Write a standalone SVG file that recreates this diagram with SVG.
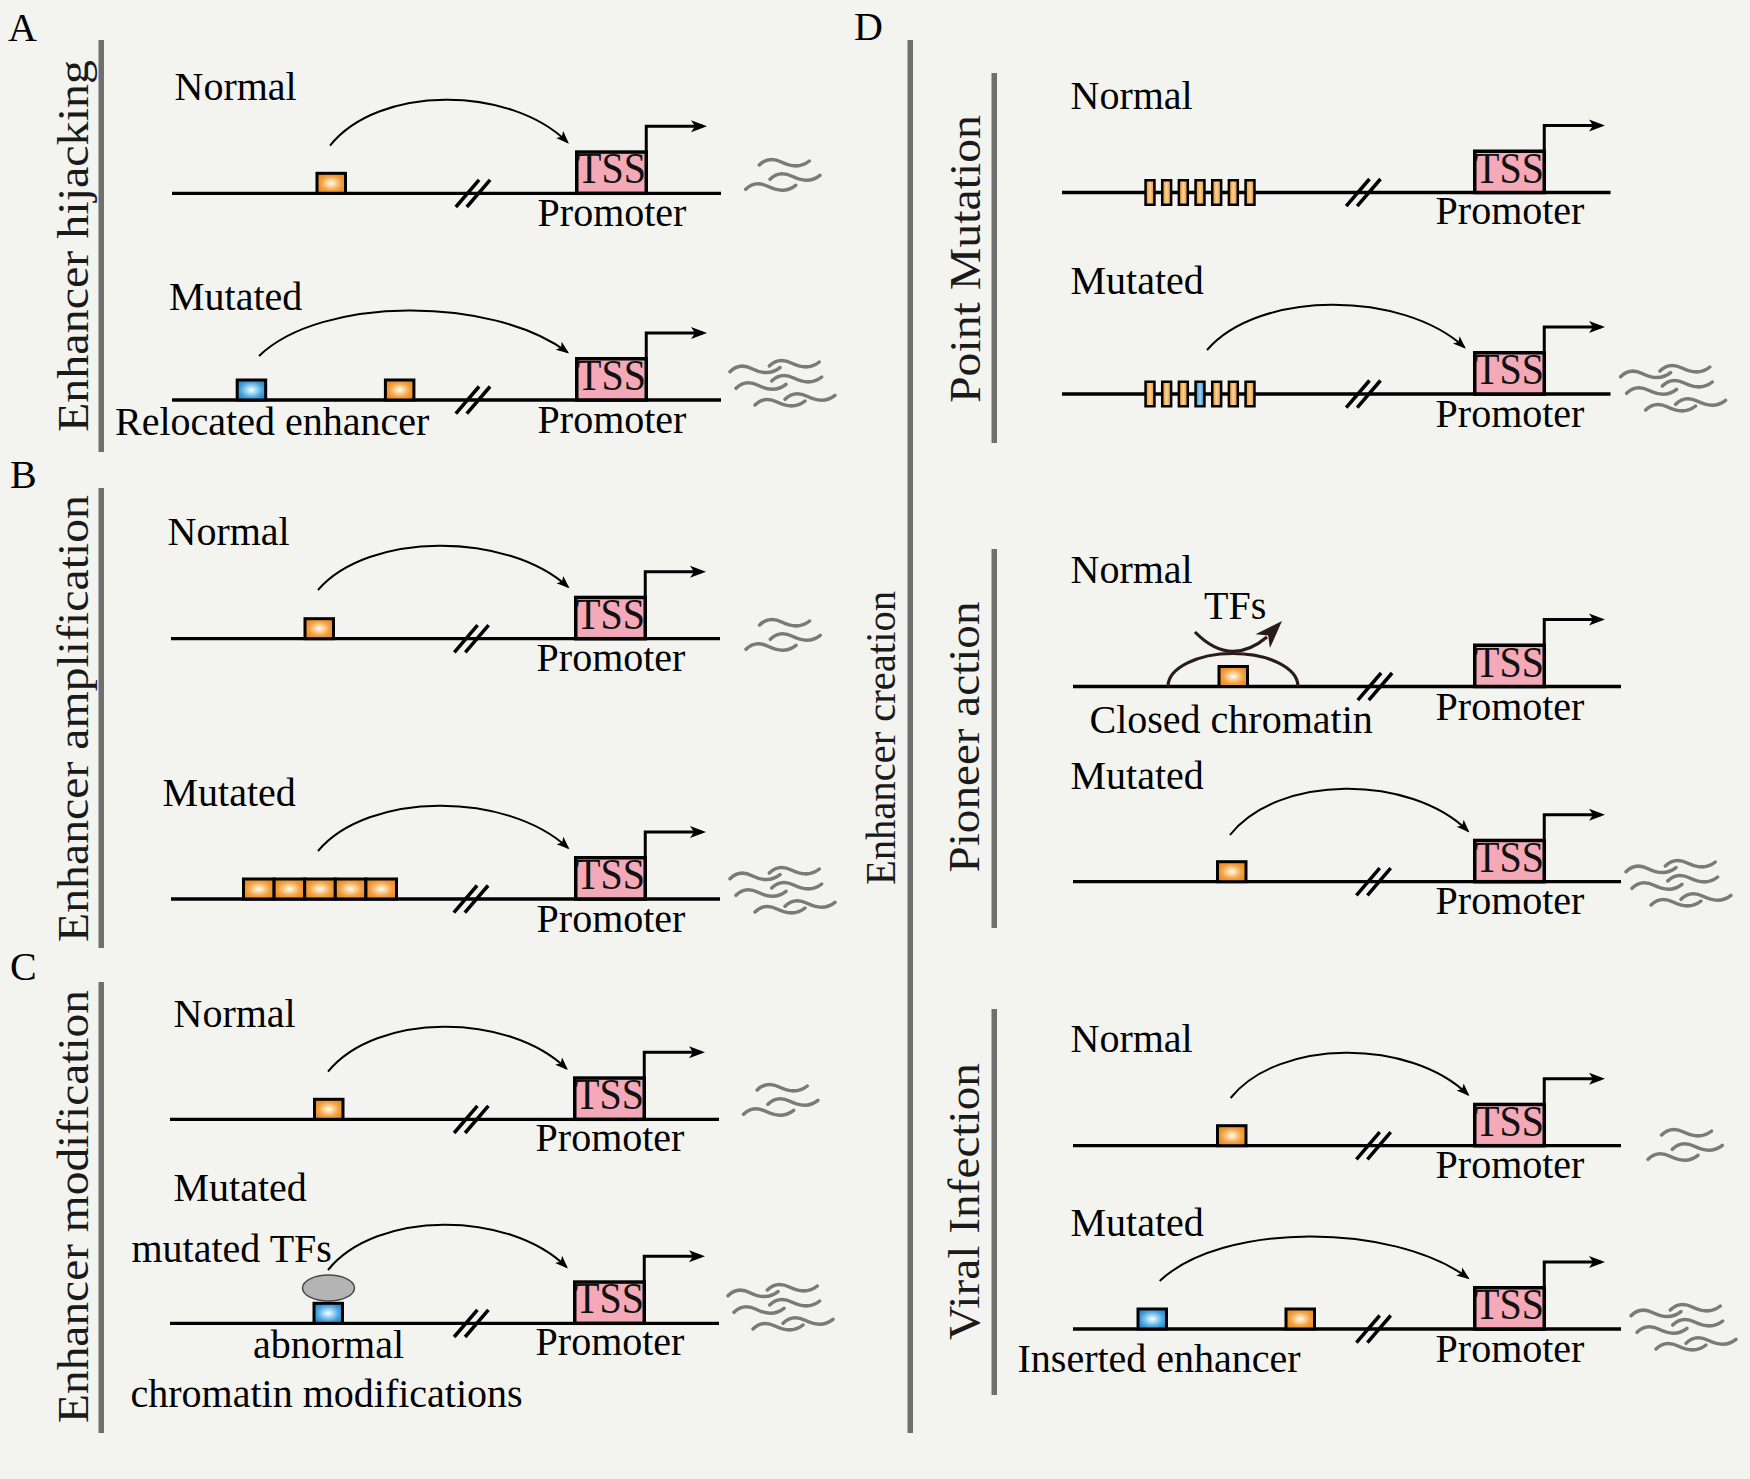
<svg xmlns="http://www.w3.org/2000/svg" xmlns:xlink="http://www.w3.org/1999/xlink" width="1750" height="1479" viewBox="0 0 1750 1479">
<style>
.t{font-family:"Liberation Serif","Times New Roman",serif;font-size:40px;fill:#000}
.side{font-family:"Liberation Serif","Times New Roman",serif;font-size:44px;fill:#1a1a1a;text-anchor:middle}
.mid{text-anchor:middle}
.tsst{font-family:"Liberation Serif","Times New Roman",serif;font-size:44px;fill:#111;text-anchor:middle}
.bar{fill:#6f6f6f}
.dna{stroke:#000;stroke-width:3.3;fill:none}
.brk line{stroke:#000;stroke-width:3.5}
.tss{fill:#f3a9b7;stroke:#000;stroke-width:3.5}
.tssarr{fill:none;stroke:#000;stroke-width:3;marker-end:url(#ahL)}
.cv{fill:none;stroke:#000;stroke-width:2;marker-end:url(#ahS)}
.wv{fill:none;stroke:#7a7a7a;stroke-width:3.5;stroke-linecap:round}
.eo{fill:url(#gO);stroke:#000;stroke-width:3}
.eb{fill:url(#gB);stroke:#000;stroke-width:3}
.po{fill:url(#lO);stroke:#000;stroke-width:2.5}
.pb{fill:url(#lB);stroke:#000;stroke-width:2.5}
.dk{fill:none;stroke:#2a1c1a;stroke-width:3.2}
</style>
<defs>
<radialGradient id="gO" cx="0.5" cy="0.5" r="0.6">
<stop offset="0" stop-color="#ffffff"/><stop offset="0.18" stop-color="#fde2b5"/><stop offset="0.6" stop-color="#f4a040"/><stop offset="1" stop-color="#e6861c"/>
</radialGradient>
<radialGradient id="gB" cx="0.5" cy="0.5" r="0.6">
<stop offset="0" stop-color="#ffffff"/><stop offset="0.2" stop-color="#bfe5f8"/><stop offset="0.65" stop-color="#48a4df"/><stop offset="1" stop-color="#2c7cc2"/>
</radialGradient>
<linearGradient id="lO" x1="0" y1="0" x2="1" y2="0">
<stop offset="0" stop-color="#e6861c"/><stop offset="0.5" stop-color="#fbd49a"/><stop offset="1" stop-color="#e6861c"/>
</linearGradient>
<linearGradient id="lB" x1="0" y1="0" x2="1" y2="0">
<stop offset="0" stop-color="#2c7cc2"/><stop offset="0.5" stop-color="#9ed6f5"/><stop offset="1" stop-color="#2c7cc2"/>
</linearGradient>
<marker id="ahL" viewBox="-20 -10 24 20" refX="-4" refY="0" markerWidth="24" markerHeight="20" markerUnits="userSpaceOnUse" orient="auto">
<path d="M0,0 L-16,-6 L-12,0 L-16,6 Z" fill="#000"/>
</marker>
<marker id="ahS" viewBox="-20 -10 24 20" refX="-2" refY="0" markerWidth="24" markerHeight="20" markerUnits="userSpaceOnUse" orient="auto">
<path d="M0,0 L-13,-5 L-10,0 L-13,5 Z" fill="#000"/>
</marker>
<path id="w" class="wv" d="M0,0 C6,-6 14,-7 22,-3 S40,4 50,-4"/>
<g id="ws1">
<use xlink:href="#w" x="13.6" y="5"/><use xlink:href="#w" x="24.3" y="19.3"/><use xlink:href="#w" x="0" y="29.3"/>
</g>
<g id="ws3">
<use xlink:href="#w" x="0" y="10.7"/><use xlink:href="#w" x="39.3" y="5"/><use xlink:href="#w" x="6" y="27.3"/><use xlink:href="#w" x="41.7" y="20"/><use xlink:href="#w" x="25" y="44"/><use xlink:href="#w" x="55" y="38.3"/>
</g>
<g id="brk" class="brk"><line x1="-17.2" y1="13.7" x2="6.1" y2="-13.5"/><line x1="-6.2" y1="13.7" x2="17.1" y2="-13.5"/></g>
</defs>
<rect width="1750" height="1479" fill="#f3f3ef"/>

<!-- panel letters and side bars -->
<g id="labels">
<text class="t" x="8" y="41">A</text>
<text class="t" x="10" y="488">B</text>
<text class="t" x="10" y="980">C</text>
<text class="t" x="854" y="40">D</text>
<rect class="bar" x="98.5" y="40" width="5.5" height="412"/>
<rect class="bar" x="98.5" y="488" width="5.5" height="460"/>
<rect class="bar" x="98.5" y="982" width="5.5" height="451"/>
<rect class="bar" x="907.5" y="40" width="5.5" height="1393"/>
<rect class="bar" x="991.5" y="73" width="5.5" height="370"/>
<rect class="bar" x="991.5" y="549" width="5.5" height="379"/>
<rect class="bar" x="991.5" y="1009" width="5.5" height="386"/>
<text class="side" transform="translate(87.5,246) rotate(-90)" textLength="372" lengthAdjust="spacingAndGlyphs">Enhancer hijacking</text>
<text class="side" transform="translate(87.5,718.5) rotate(-90)" textLength="447" lengthAdjust="spacingAndGlyphs">Enhancer amplification</text>
<text class="side" transform="translate(87.5,1206.5) rotate(-90)" textLength="433" lengthAdjust="spacingAndGlyphs">Enhancer modification</text>
<text class="side" style="font-size:42px" transform="translate(894.5,738) rotate(-90)" textLength="294" lengthAdjust="spacingAndGlyphs">Enhancer creation</text>
<text class="side" style="font-size:45px" transform="translate(980,259) rotate(-90)" textLength="288" lengthAdjust="spacingAndGlyphs">Point Mutation</text>
<text class="side" style="font-size:45px" transform="translate(979,737) rotate(-90)" textLength="271" lengthAdjust="spacingAndGlyphs">Pioneer action</text>
<text class="side" style="font-size:45px" transform="translate(979,1201.5) rotate(-90)" textLength="277" lengthAdjust="spacingAndGlyphs">Viral Infection</text>
</g>

<!-- A normal -->
<g id="A-normal">
<text class="t" x="174.5" y="100">Normal</text>
<path class="dna" d="M172,193.3 H721"/>
<rect class="eo" x="317" y="173.3" width="28.5" height="20"/>
<use xlink:href="#brk" x="473" y="193.3"/>
<rect class="tss" x="576.75" y="152.05" width="69.5" height="41.25"/>
<text class="tsst" x="611.5" y="183.3" textLength="69" lengthAdjust="spacingAndGlyphs">TSS</text>
<text class="t mid" x="612" y="225.8">Promoter</text>
<use xlink:href="#ws1" x="745.7" y="160"/>
</g>
<!-- A mutated -->
<g id="A-mutated">
<text class="t" x="169" y="310">Mutated</text>
<path class="dna" d="M172,400 H721"/>
<rect class="eb" x="237.2" y="380" width="28.5" height="20"/>
<rect class="eo" x="385.4" y="380" width="28.5" height="20"/>
<use xlink:href="#brk" x="473" y="400"/>
<rect class="tss" x="576.75" y="358.75" width="69.5" height="41.25"/>
<text class="tsst" x="611.5" y="390" textLength="69" lengthAdjust="spacingAndGlyphs">TSS</text>
<text class="t mid" x="612" y="432.5">Promoter</text>
<text class="t" x="115" y="435">Relocated enhancer</text>
<use xlink:href="#ws3" x="730" y="361"/>
</g>

<!-- B normal -->
<g id="B-normal">
<text class="t" x="167.5" y="545">Normal</text>
<path class="dna" d="M171,638.7 H720"/>
<rect class="eo" x="305" y="618.7" width="28.5" height="20"/>
<use xlink:href="#brk" x="471.5" y="638.7"/>
<rect class="tss" x="575.75" y="597.45" width="69.5" height="41.25"/>
<text class="tsst" x="610.5" y="628.7" textLength="69" lengthAdjust="spacingAndGlyphs">TSS</text>
<text class="t mid" x="611" y="670.5">Promoter</text>
<use xlink:href="#ws1" x="746" y="620"/>
</g>
<!-- B mutated -->
<g id="B-mutated">
<text class="t" x="162.5" y="805.7">Mutated</text>
<path class="dna" d="M171,899 H720"/>
<rect class="eo" x="243.5" y="879" width="30.6" height="20"/>
<rect class="eo" x="274.1" y="879" width="30.6" height="20"/>
<rect class="eo" x="304.7" y="879" width="30.6" height="20"/>
<rect class="eo" x="335.3" y="879" width="30.6" height="20"/>
<rect class="eo" x="365.9" y="879" width="30.6" height="20"/>
<use xlink:href="#brk" x="471" y="899"/>
<rect class="tss" x="575.75" y="857.75" width="69.5" height="41.25"/>
<text class="tsst" x="610.5" y="889" textLength="69" lengthAdjust="spacingAndGlyphs">TSS</text>
<text class="t mid" x="611" y="931.5">Promoter</text>
<use xlink:href="#ws3" x="730" y="868"/>
</g>

<!-- C normal -->
<g id="C-normal">
<text class="t" x="173.5" y="1026.7">Normal</text>
<path class="dna" d="M170,1119.3 H719"/>
<rect class="eo" x="314.5" y="1099.3" width="28.5" height="20"/>
<use xlink:href="#brk" x="471.3" y="1119.3"/>
<rect class="tss" x="574.75" y="1078.05" width="69.5" height="41.25"/>
<text class="tsst" x="609.5" y="1109.3" textLength="69" lengthAdjust="spacingAndGlyphs">TSS</text>
<text class="t mid" x="610" y="1150.5">Promoter</text>
<use xlink:href="#ws1" x="743.6" y="1085"/>
</g>
<!-- C mutated -->
<g id="C-mutated">
<text class="t" x="173.5" y="1200.7">Mutated</text>
<text class="t" x="131.5" y="1261.7">mutated TFs</text>
<path class="dna" d="M170,1323.3 H719"/>
<ellipse cx="328.5" cy="1288" rx="26" ry="13" fill="#b4b4b4" stroke="#4a4a4a" stroke-width="1.5"/>
<rect class="eb" x="314" y="1303.3" width="28.5" height="20"/>
<use xlink:href="#brk" x="471.3" y="1323.3"/>
<rect class="tss" x="574.75" y="1282.05" width="69.5" height="41.25"/>
<text class="tsst" x="609.5" y="1313.3" textLength="69" lengthAdjust="spacingAndGlyphs">TSS</text>
<text class="t mid" x="610" y="1354.5">Promoter</text>
<text class="t" x="253" y="1358">abnormal</text>
<text class="t" x="130.5" y="1407">chromatin modifications</text>
<use xlink:href="#ws3" x="728" y="1285"/>
</g>

<!-- D point mutation normal -->
<g id="PM-normal">
<text class="t" x="1070.5" y="109">Normal</text>
<path class="dna" d="M1062,192.5 H1610.5"/>
<rect class="po" x="1145.55" y="180.25" width="8.9" height="24.5"/>
<rect class="po" x="1162.22" y="180.25" width="8.9" height="24.5"/>
<rect class="po" x="1178.89" y="180.25" width="8.9" height="24.5"/>
<rect class="po" x="1195.56" y="180.25" width="8.9" height="24.5"/>
<rect class="po" x="1212.23" y="180.25" width="8.9" height="24.5"/>
<rect class="po" x="1228.9" y="180.25" width="8.9" height="24.5"/>
<rect class="po" x="1245.57" y="180.25" width="8.9" height="24.5"/>
<use xlink:href="#brk" x="1363.4" y="192.5"/>
<rect class="tss" x="1474.75" y="151.25" width="69.5" height="41.25"/>
<text class="tsst" x="1509.5" y="182.5" textLength="69" lengthAdjust="spacingAndGlyphs">TSS</text>
<text class="t mid" x="1510" y="224">Promoter</text>
</g>
<!-- D point mutation mutated -->
<g id="PM-mutated">
<text class="t" x="1070.5" y="294">Mutated</text>
<path class="dna" d="M1062,394 H1610.5"/>
<rect class="po" x="1145.55" y="381.75" width="8.9" height="24.5"/>
<rect class="po" x="1162.22" y="381.75" width="8.9" height="24.5"/>
<rect class="po" x="1178.89" y="381.75" width="8.9" height="24.5"/>
<rect class="pb" x="1195.56" y="381.75" width="8.9" height="24.5"/>
<rect class="po" x="1212.23" y="381.75" width="8.9" height="24.5"/>
<rect class="po" x="1228.9" y="381.75" width="8.9" height="24.5"/>
<rect class="po" x="1245.57" y="381.75" width="8.9" height="24.5"/>
<use xlink:href="#brk" x="1363.4" y="394"/>
<rect class="tss" x="1474.75" y="352.75" width="69.5" height="41.25"/>
<text class="tsst" x="1509.5" y="384" textLength="69" lengthAdjust="spacingAndGlyphs">TSS</text>
<text class="t mid" x="1510" y="427">Promoter</text>
<use xlink:href="#ws3" x="1620.6" y="366"/>
</g>

<!-- D pioneer normal -->
<g id="PI-normal">
<text class="t" x="1070.5" y="583">Normal</text>
<text class="t" x="1204" y="619">TFs</text>
<path class="dna" d="M1073,686.5 H1621"/>
<path class="dk" d="M1168,686.5 A65,33 0 0 1 1298,686.5"/>
<rect class="eo" x="1219" y="666.5" width="28.5" height="20"/>
<path class="dk" d="M1195,632 Q1230,668 1267,637"/>
<path d="M1282,621 L1269.9,648.1 L1268.2,635.4 L1255.5,634.3 Z" fill="#2a1c1a"/>
<use xlink:href="#brk" x="1375" y="686.5"/>
<rect class="tss" x="1474.75" y="645.25" width="69.5" height="41.25"/>
<text class="tsst" x="1509.5" y="676.5" textLength="69" lengthAdjust="spacingAndGlyphs">TSS</text>
<text class="t mid" x="1510" y="719.5">Promoter</text>
<text class="t" x="1089.5" y="733">Closed chromatin</text>
</g>
<!-- D pioneer mutated -->
<g id="PI-mutated">
<text class="t" x="1070.5" y="789">Mutated</text>
<path class="dna" d="M1073,881.7 H1621"/>
<rect class="eo" x="1217.5" y="861.7" width="28.5" height="20"/>
<use xlink:href="#brk" x="1373.6" y="881.7"/>
<rect class="tss" x="1474.75" y="840.45" width="69.5" height="41.25"/>
<text class="tsst" x="1509.5" y="871.7" textLength="69" lengthAdjust="spacingAndGlyphs">TSS</text>
<text class="t mid" x="1510" y="913.7">Promoter</text>
<use xlink:href="#ws3" x="1626" y="861"/>
</g>

<!-- D viral normal -->
<g id="VI-normal">
<text class="t" x="1070.5" y="1052.3">Normal</text>
<path class="dna" d="M1073,1145.7 H1621"/>
<rect class="eo" x="1217.5" y="1125.7" width="28.5" height="20"/>
<use xlink:href="#brk" x="1373.6" y="1145.7"/>
<rect class="tss" x="1474.75" y="1104.45" width="69.5" height="41.25"/>
<text class="tsst" x="1509.5" y="1135.7" textLength="69" lengthAdjust="spacingAndGlyphs">TSS</text>
<text class="t mid" x="1510" y="1178.2">Promoter</text>
<use xlink:href="#ws1" x="1648" y="1130"/>
</g>
<!-- D viral mutated -->
<g id="VI-mutated">
<text class="t" x="1070.5" y="1235.7">Mutated</text>
<path class="dna" d="M1073,1329 H1621"/>
<rect class="eb" x="1138" y="1309" width="28.5" height="20"/>
<rect class="eo" x="1286" y="1309" width="28.5" height="20"/>
<use xlink:href="#brk" x="1373.6" y="1329"/>
<rect class="tss" x="1474.75" y="1287.75" width="69.5" height="41.25"/>
<text class="tsst" x="1509.5" y="1319" textLength="69" lengthAdjust="spacingAndGlyphs">TSS</text>
<text class="t mid" x="1510" y="1361.5">Promoter</text>
<text class="t" x="1017.5" y="1371.7">Inserted enhancer</text>
<use xlink:href="#ws3" x="1631" y="1305"/>
</g>

<!-- connectors -->
<g id="connectors">
<path class="cv" d="M330,145.7 C378,85 509.7,85 567.5,142.3"/>
<path class="cv" d="M259,356 C321.1,295.9 492,295.9 567.5,352.3"/>
<path class="cv" d="M318,590 C368.4,531.5 507,531.5 568,587"/>
<path class="cv" d="M318,851 C368.4,791.2 507,791.2 568,848"/>
<path class="cv" d="M328,1071.7 C376.1,1012.3 508.4,1012.3 566.5,1068.7"/>
<path class="cv" d="M328,1270 C376.1,1210.1 508.4,1210.1 566.5,1267"/>
<path class="cv" d="M1207,350 C1258.9,290.1 1401.6,290.1 1464.4,347.3"/>
<path class="cv" d="M1230,835 C1278,774 1410,774 1468,831"/>
<path class="cv" d="M1230.6,1098 C1278.5,1038.2 1410.2,1038.2 1468,1094.7"/>
<path class="cv" d="M1159.7,1281 C1221.8,1222.1 1392.4,1222.1 1468,1278"/>
<path class="tssarr" d="M646.25,152.05 V126.3 H703"/>
<path class="tssarr" d="M646.25,358.75 V333 H703"/>
<path class="tssarr" d="M645.25,597.45 V571.7 H702"/>
<path class="tssarr" d="M645.25,857.75 V832 H702"/>
<path class="tssarr" d="M644.25,1078.05 V1052.3 H701"/>
<path class="tssarr" d="M644.25,1282.05 V1256.3 H701"/>
<path class="tssarr" d="M1544.25,151.25 V125.5 H1601"/>
<path class="tssarr" d="M1544.25,352.75 V327 H1601"/>
<path class="tssarr" d="M1544.25,645.25 V619.5 H1601"/>
<path class="tssarr" d="M1544.25,840.45 V814.7 H1601"/>
<path class="tssarr" d="M1544.25,1104.45 V1078.7 H1601"/>
<path class="tssarr" d="M1544.25,1287.75 V1262 H1601"/>
</g>
</svg>
